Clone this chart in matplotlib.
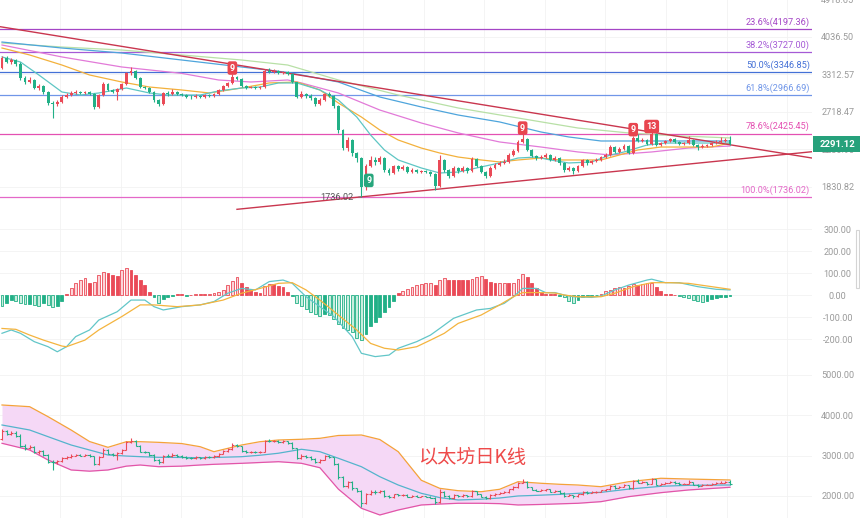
import numpy as np
import matplotlib.pyplot as plt
from matplotlib.patches import Rectangle
from matplotlib.transforms import blended_transform_factory
from matplotlib.ticker import NullLocator, NullFormatter

plt.rcParams['font.family'] = ['Roboto', 'DejaVu Sans']

# ---- daily candles (open of each day = previous close) ----
first_open = 3425
closes = [3611, 3536, 3573, 3498, 3250, 3182, 3216, 3083, 3116, 3019,
          2849, 2834, 2864, 2940, 2971, 3003, 3019, 3003, 3019, 2987,
          2790, 2971, 3149, 3051, 3019, 3067, 3149, 3337, 3372, 3250,
          3099, 3083, 3019, 2894, 2834, 3003, 2987, 3019, 2987, 2971,
          2940, 2935, 2956, 2940, 2971, 2956, 2987, 3051, 3116, 3166,
          3268, 3233, 3116, 3083, 3099, 3083, 3099, 3372, 3355, 3372,
          3337, 3355, 3319, 3182, 2940, 2987, 2956, 2925, 2834, 2894,
          2987, 2956, 2804, 2471, 2247, 2344, 2189, 2132, 1830, 2044,
          2110, 2088, 2132, 2001, 1970, 2044, 2012, 2034, 1980, 2001,
          1980, 1991, 1980, 1959, 1839, 2110, 2001, 1939, 2023, 1991,
          2023, 1991, 2121, 2044, 1980, 1939, 2023, 2055, 2077, 2088,
          2166, 2212, 2320, 2357, 2224, 2155, 2132, 2143, 2166, 2110,
          2132, 2077, 2001, 2023, 1991, 2044, 2110, 2077, 2099, 2110,
          2143, 2166, 2259, 2201, 2235, 2271, 2189, 2369, 2332, 2344,
          2295, 2420, 2283, 2307, 2332, 2357, 2320, 2295, 2307, 2344,
          2283, 2259, 2271, 2283, 2307, 2320, 2332, 2344, 2291.12]
highs = [3650, 3640, 3620, 3600, 3530, 3280, 3260, 3240, 3150, 3140,
         3040, 2880, 2900, 2970, 3000, 3030, 3050, 3040, 3040, 3040,
         3000, 2990, 3180, 3170, 3070, 3090, 3170, 3360, 3440, 3390,
         3270, 3120, 3100, 3030, 2910, 3020, 3030, 3060, 3040, 3010,
         2990, 2970, 2980, 2975, 2990, 2990, 3010, 3070, 3140, 3190,
         3320, 3290, 3250, 3130, 3120, 3115, 3120, 3400, 3420, 3400,
         3390, 3380, 3370, 3330, 3190, 3040, 3010, 2980, 2940, 2920,
         3010, 3020, 2970, 2820, 2490, 2380, 2360, 2200, 2140, 2070,
         2150, 2140, 2160, 2140, 2020, 2060, 2060, 2050, 2045, 2020,
         2015, 2005, 2000, 1995, 1970, 2166, 2120, 2015, 2040, 2035,
         2045, 2035, 2140, 2130, 2055, 1995, 2040, 2075, 2095, 2120,
         2185, 2240, 2340, 2420, 2370, 2235, 2170, 2165, 2185, 2180,
         2150, 2145, 2090, 2040, 2035, 2060, 2125, 2120, 2115, 2130,
         2160, 2185, 2280, 2270, 2255, 2290, 2280, 2400, 2420, 2365,
         2355, 2440, 2430, 2325, 2350, 2375, 2370, 2335, 2325, 2395,
         2355, 2295, 2290, 2300, 2325, 2340, 2380, 2370, 2400]
lows = [3400, 3510, 3500, 3470, 3220, 3150, 3160, 3060, 3050, 2990,
        2820, 2632, 2800, 2850, 2920, 2950, 2990, 2980, 2990, 2970,
        2760, 2780, 2960, 3030, 3000, 2894, 3050, 3130, 3310, 3230,
        3080, 3060, 3000, 2870, 2800, 2820, 2960, 2970, 2970, 2950,
        2920, 2915, 2920, 2925, 2925, 2940, 2945, 2975, 3040, 3100,
        3150, 3210, 3100, 3070, 3075, 3070, 3070, 3090, 3340, 3340,
        3320, 3320, 3300, 3160, 2920, 2920, 2930, 2900, 2810, 2820,
        2880, 2940, 2780, 2430, 2220, 2210, 2160, 2090, 1736.02, 1800,
        2030, 2060, 2070, 1980, 1950, 1960, 1995, 2000, 1965, 1970,
        1965, 1970, 1965, 1940, 1801, 1830, 1985, 1920, 1930, 1975,
        1980, 1975, 1980, 2030, 1965, 1920, 1930, 2010, 2045, 2065,
        2080, 2150, 2200, 2310, 2210, 2140, 2115, 2120, 2130, 2095,
        2100, 2060, 1985, 1990, 1960, 1980, 2035, 2060, 2065, 2085,
        2100, 2130, 2155, 2185, 2190, 2225, 2175, 2180, 2315, 2320,
        2280, 2285, 2270, 2270, 2295, 2320, 2305, 2280, 2285, 2300,
        2270, 2220, 2250, 2260, 2275, 2295, 2310, 2320, 2280]

# ---- moving averages ----
teal_days = [0, 4, 8, 13, 17, 21, 27, 32, 36, 43, 47, 52, 56, 60, 64, 69, 73, 77, 80, 83,
             86, 91, 95, 99, 104, 108, 112, 116, 119, 123, 128, 132, 135, 140, 144, 149, 158]
teal_vals = [3631, 3536, 3302, 3019, 2971, 3003, 3083, 3003, 2971, 2971, 3035, 3083, 3099, 3166,
             3166, 3051, 2894, 2646, 2407, 2224, 2110, 2023, 1970, 1980, 2034, 2077, 2132, 2143,
             2110, 2077, 2088, 2166, 2201, 2283, 2307, 2307, 2307]
orange_days = [0, 6, 13, 19, 26, 32, 39, 45, 52, 58, 64, 69, 73, 78, 82, 86, 91, 95, 99, 104,
               108, 112, 117, 121, 125, 130, 134, 138, 143, 149, 154, 158]
orange_vals = [3806, 3669, 3480, 3302, 3182, 3099, 3051, 3003, 3083, 3166, 3182, 3051, 2849, 2646,
               2471, 2344, 2247, 2189, 2143, 2110, 2088, 2110, 2132, 2110, 2110, 2110, 2166, 2224,
               2259, 2259, 2259, 2307]
pink_days = [0, 13, 26, 39, 47, 54, 62, 65, 73, 82, 91, 99, 108, 117, 125, 132, 141, 149, 158]
pink_vals = [3867, 3631, 3444, 3330, 3216, 3182, 3216, 3166, 3003, 2745, 2564, 2433, 2320, 2259,
             2201, 2166, 2201, 2247, 2271]
blue_days = [0, 13, 26, 39, 52, 62, 73, 82, 91, 99, 108, 117, 123, 130, 141, 158]
blue_vals = [3928, 3806, 3707, 3573, 3444, 3347, 3182, 2940, 2790, 2674, 2578, 2445, 2382, 2332,
             2332, 2332]
green_days = [0, 13, 26, 39, 52, 62, 73, 86, 99, 112, 125, 136, 147, 158]
green_vals = [3908, 3826, 3766, 3669, 3573, 3480, 3216, 2971, 2775, 2632, 2497, 2433, 2395, 2370]

# ---- trend lines ----
upper_trend_days = [-0.5, 176]
upper_trend_vals = [4260, 2130]
lower_trend_days = [51, 176]
lower_trend_vals = [1627, 2205]

# ---- fibonacci retracement ----
fib_ratios = [0.236, 0.382, 0.5, 0.618, 0.786, 1.0]
fib_prices = [4197.36, 3727.00, 3346.85, 2966.69, 2425.45, 1736.02]
fib_colors = ['#a445c6', '#a55ad6', '#4470d6', '#7096e8', '#e450b2', '#e468c8']

# ---- TD sequential marks ----
td_sell = [(50, '9'), (113, '9'), (137, '9'), (141, '13')]
td_buy = [(79, '9')]

# ---- MACD ----
macd_hist = [-50, -35, -22, -28, -35, -40, -40, -46, -50, -38,
             -45, -55, -48, -28, 3, 30, 53, 68, 76, 53,
             60, 91, 106, 98, 90, 86, 114, 125, 114, 91,
             68, 45, 15, -10, -38, -20, -10, -5, 3, 3,
             -3, 2, 3, 3, 3, 5, 8, 15, 25, 45,
             65, 83, 55, 35, 25, 15, 10, 40, 50, 48,
             42, 35, 15, -5, -35, -50, -65, -75, -88, -95,
             -85, -90, -110, -130, -150, -158, -168, -197, -205, -175,
             -141, -121, -98, -76, -53, -25, 8, 18, 28, 36,
             44, 50, 53, 55, 45, 68, 76, 70, 68, 68,
             67, 66, 74, 83, 86, 72, 61, 53, 54, 55,
             55, 56, 72, 95, 80, 53, 30, 15, 5, 4,
             3, -3, -8, -28, -38, -23, -8, -5, -4, -2,
             5, 18, 25, 30, 35, 33, 42, 48, 45, 50,
             53, 55, 38, 18, 6, 4, 2, -4, -10, -15,
             -22, -28, -30, -25, -20, -15, -10, -8, -5]
dif_days = [0, 2, 4, 7, 10, 12, 14, 16, 19, 21, 25, 28, 31, 33, 35, 39, 43, 46, 49, 52,
            55, 58, 61, 63, 66, 69, 72, 76, 78, 81, 84, 86, 90, 93, 95, 98, 103, 106, 109, 111,
            113, 116, 118, 120, 122, 124, 128, 130, 133, 136, 140, 141, 144, 147, 151, 155, 158]
dif_vals = [-174, -159, -174, -212, -235, -258, -235, -189, -159, -114, -76, -23, -23, -53, -68,
            -53, -45, -30, 8, 30, 23, 61, 68, 53, -8, -53, -98, -189, -265, -280, -273, -242,
            -212, -182, -152, -106, -68, -61, -38, -8, 30, 30, 11, 11, 0, -8, -11, -5, 23, 45,
            68, 72, 56, 56, 38, 26, 23]
dea_days = [0, 3, 6, 9, 13, 14, 18, 21, 26, 30, 33, 38, 43, 48, 52, 56, 60, 63, 66, 69,
            73, 77, 80, 83, 86, 90, 93, 96, 99, 104, 108, 111, 113, 117, 120, 122, 125, 130,
            133, 137, 141, 145, 149, 154, 158]
dea_vals = [-152, -156, -182, -205, -232, -235, -205, -159, -98, -45, -45, -53, -45, -23, 8, 30,
            53, 56, 23, -23, -91, -159, -220, -242, -250, -235, -205, -174, -129, -91, -45, -8,
            11, 11, 9, 0, -8, -8, 8, 38, 56, 56, 53, 38, 26]

# ---- BOLL ----
boll_days = [0, 6, 10, 15, 19, 23, 27, 30, 34, 39, 43, 46, 52, 56, 60, 65, 69, 73, 78, 82,
             86, 91, 95, 99, 104, 108, 112, 117, 121, 125, 130, 136, 143, 149, 158]
boll_up = [4256, 4214, 3966, 3636, 3350, 3207, 3346, 3346, 3330, 3300, 3222, 3098, 3264, 3346,
           3388, 3406, 3430, 3500, 3512, 3400, 3098, 2390, 2190, 2131, 2106, 2166, 2354, 2315,
           2290, 2272, 2230, 2354, 2439, 2420, 2397]
boll_mid = [3760, 3636, 3470, 3264, 3140, 3016, 2990, 2975, 2959, 2955, 2949, 2955, 2974, 3010,
            3060, 3158, 3098, 2935, 2726, 2478, 2272, 2066, 1960, 1901, 1920, 1950, 2000, 2020,
            2040, 2066, 2090, 2170, 2240, 2265, 2273]
boll_low = [3306, 3140, 2892, 2645, 2615, 2645, 2740, 2768, 2726, 2740, 2768, 2785, 2810, 2830,
            2850, 2810, 2700, 2170, 1695, 1529, 1653, 1777, 1800, 1819, 1819, 1810, 1777, 1790,
            1805, 1819, 1859, 1983, 2082, 2149, 2215]

price_ticks = [1830.82, 2230.90, 2718.47, 3312.57, 4036.50, 4918.65]
macd_ticks = [300, 200, 100, 0, -100, -200]
boll_ticks = [5000, 4000, 3000, 2000]

RED, GREEN = '#ea4a57', '#22b087'
LRED, LGREEN = '#fcd5d9', '#c8eede'

W, H = 860, 518


def px(x0, y0, x1, y1):
    return [x0 / W, 1 - y1 / H, (x1 - x0) / W, (y1 - y0) / H]


def style(ax, ticks, labels):
    for s in ax.spines.values():
        s.set_visible(False)
    ax.yaxis.tick_right()
    ax.set_yticks(ticks, labels)
    ax.yaxis.set_minor_locator(NullLocator())
    ax.yaxis.set_minor_formatter(NullFormatter())
    ax.tick_params(axis='y', length=0, pad=18.5, labelsize=6.6, labelcolor='#9a9a9a')
    plt.setp(ax.get_yticklabels(), ha='center')
    ax.tick_params(axis='x', length=0, labelbottom=False)
    ax.grid(True, color='#f2f2f2', lw=0.6)
    ax.set_axisbelow(True)


fig = plt.figure(figsize=(8.6, 5.18), dpi=100)
ax1 = fig.add_axes(px(0, -4, 812, 218))
ax2 = fig.add_axes(px(0, 218, 812, 362))
ax3 = fig.add_axes(px(0, 362, 812, 518))

c = np.array(closes, dtype=float)
o = np.concatenate([[first_open], c[:-1]])
hi = np.array(highs, dtype=float)
lo = np.array(lows, dtype=float)
days = np.arange(len(c))
col = np.where(c >= o, RED, GREEN)
grid_days = np.arange(12.6, 176, 13.15)

for ax in (ax1, ax2, ax3):
    ax.set_xlim(-0.434, 175.8)
    ax.set_xticks(grid_days)

# ---- top: candles + MA + fib ----
ax1.set_yscale('log')
ax1.set_ylim(1554.2, 5006)
style(ax1, price_ticks, [f'{t:.2f}' for t in price_ticks])

for r, p, fc in zip(fib_ratios, fib_prices, fib_colors):
    ax1.axhline(p, color=fc, lw=0.9, zorder=1)
    ax1.annotate(f'{r * 100:.1f}%({p:.2f})', xy=(1.0, p), xycoords=('axes fraction', 'data'),
                 xytext=(-1.5, 1.5), textcoords='offset points', ha='right', va='bottom',
                 color=fc, fontsize=6.6)

ax1.plot(green_days, green_vals, color='#b8e0a6', lw=0.9, zorder=2)
ax1.plot(blue_days, blue_vals, color='#4ea5dc', lw=0.9, zorder=2)
ax1.plot(pink_days, pink_vals, color='#e27ad8', lw=0.9, zorder=2)
ax1.plot(orange_days, orange_vals, color='#f3b13c', lw=0.9, zorder=2)
ax1.plot(teal_days, teal_vals, color='#5ec6c4', lw=0.9, zorder=2)
ax1.plot(upper_trend_days, upper_trend_vals, color='#c9364e', lw=1.0, zorder=2)
ax1.plot(lower_trend_days, lower_trend_vals, color='#c9364e', lw=1.0, zorder=2)

ax1.vlines(days, lo, hi, colors=col, lw=0.8, zorder=3)
body = np.maximum(np.abs(c - o), c * 0.002)
ax1.bar(days, body, bottom=np.minimum(o, c), width=0.62, color=col, zorder=3)

for d, t in td_sell:
    ax1.annotate(t, xy=(d, hi[d]), xytext=(0, 1), textcoords='offset points', ha='center',
                 va='bottom', color='white', fontsize=6.5, fontweight='bold', zorder=5,
                 bbox=dict(boxstyle='round,pad=0.25', fc='#e8454f', ec='none'))
for d, t in td_buy:
    ax1.annotate(t, xy=(d, lo[d]), xytext=(2, 7), textcoords='offset points', ha='center',
                 va='center', color='white', fontsize=6.5, fontweight='bold', zorder=5,
                 bbox=dict(boxstyle='round,pad=0.25', fc='#27a67c', ec='none'))

low_day = int(np.argmin(lo))
ax1.annotate(f'{lo[low_day]:.2f}', xy=(low_day, lo[low_day]), xytext=(-6, 0),
             textcoords='offset points', ha='right', va='center', color='#555555',
             fontsize=6.6, arrowprops=dict(arrowstyle='-', color='#777777', lw=0.6))

# last price box
last = c[-1]
tr = blended_transform_factory(ax1.transAxes, ax1.transData)
f = 1.043
ax1.add_patch(Rectangle((1.001, last / f), 0.058, last * f - last / f, transform=tr,
                        fc='#26a17b', ec='none', clip_on=False, zorder=10))
ax1.text(1.032, last, f'{last:.2f}', transform=tr, ha='center', va='center',
         color='white', fontsize=6.8, fontweight='bold', clip_on=False, zorder=11)

# ---- MACD ----
ax2.set_ylim(-304.5, 350)
style(ax2, macd_ticks, [f'{t:.2f}' for t in macd_ticks])
hist = np.array(macd_hist, dtype=float)
prev = np.concatenate([[0], hist[:-1]])
hollow = np.abs(hist) > np.abs(prev)
pos = hist >= 0
edge = np.where(pos, RED, GREEN)
face = np.where(hollow, np.where(pos, LRED, LGREEN), edge)
ax2.bar(days, hist, width=0.62, color=face, edgecolor=edge, linewidth=0.6, zorder=2)
ax2.plot(dif_days, dif_vals, color='#62c6c8', lw=0.9, zorder=3)
ax2.plot(dea_days, dea_vals, color='#f4b43e', lw=0.9, zorder=3)

# ---- BOLL ----
ax3.set_ylim(1454, 5322)
style(ax3, boll_ticks, [f'{t:.2f}' for t in boll_ticks])
ax3.fill_between(boll_days, boll_low, boll_up, color='#f5d8f6', lw=0, zorder=1)
ax3.plot(boll_days, boll_up, color='#f4a23a', lw=0.9, zorder=2)
ax3.plot(boll_days, boll_mid, color='#54b4cc', lw=0.9, zorder=2)
ax3.plot(boll_days, boll_low, color='#e255a8', lw=0.9, zorder=2)
ax3.vlines(days, lo, hi, colors=col, lw=0.8, zorder=3)
ax3.hlines(o, days - 0.45, days, colors=col, lw=0.8, zorder=3)
ax3.hlines(c, days, days + 0.45, colors=col, lw=0.8, zorder=3)
ax3.text(0.515, 0.385, '以太坊日K线', transform=ax3.transAxes, fontsize=13.8,
         color='#ee4a4a', family=['Noto Sans CJK SC', 'DejaVu Sans'], ha='left', va='center')

# scroll handle at the right edge
fig.add_artist(Rectangle((856 / W, 1 - 288 / H), 3 / W, 58 / H, transform=fig.transFigure,
                         fc='white', ec='#d4d4d4', lw=0.8))

fig.savefig('out.png', dpi=100)
